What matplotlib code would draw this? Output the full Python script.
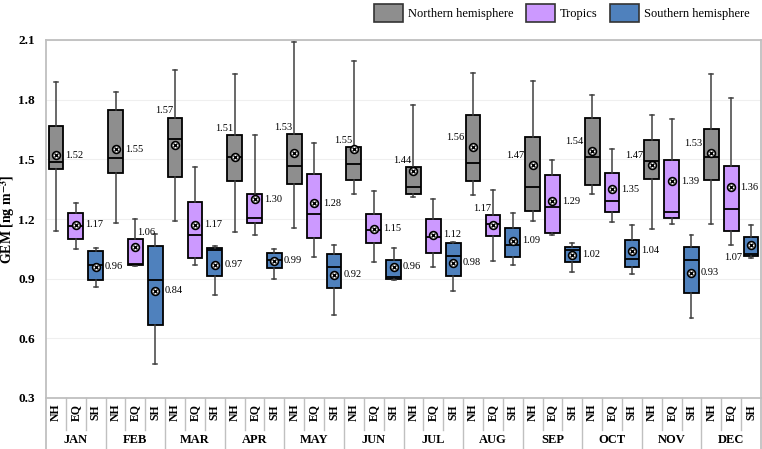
import matplotlib
matplotlib.use("Agg")
import matplotlib.pyplot as plt
from matplotlib.patches import Patch
from matplotlib.lines import Line2D

plt.rcParams['font.family'] = ['Liberation Serif', 'DejaVu Serif']
plt.rcParams['mathtext.fontset'] = 'stix'

months = ["JAN", "FEB", "MAR", "APR", "MAY", "JUN", "JUL", "AUG", "SEP", "OCT", "NOV", "DEC"]
regions = ["NH", "EQ", "SH"]
legend_labels = ["Northern hemisphere", "Tropics", "Southern hemisphere"]

# Per box (month-major, region order NH, EQ, SH)
whislo = [1.14, 1.05, 0.86, 1.18, 0.965, 0.47, 1.19, 0.97, 0.82, 1.135, 1.12, 0.90,
          1.155, 1.01, 0.715, 1.325, 0.985, 0.895, 1.31, 0.96, 0.84, 1.32, 0.99, 0.97,
          1.19, 1.12, 0.935, 1.325, 1.185, 0.925, 1.15, 1.175, 0.70, 1.175, 1.07, 1.005]
q1 = [1.45, 1.10, 0.895, 1.43, 0.967, 0.665, 1.41, 1.005, 0.915, 1.39, 1.18, 0.952,
      1.375, 1.105, 0.855, 1.395, 1.08, 0.90, 1.325, 1.03, 0.915, 1.39, 1.115, 1.01,
      1.24, 1.13, 0.985, 1.372, 1.233, 0.96, 1.40, 1.205, 0.83, 1.395, 1.14, 1.016]
med = [1.487, 1.167, 0.971, 1.505, 0.972, 0.893, 1.60, 1.12, 1.044, 1.51, 1.205, 0.995,
       1.465, 1.225, 0.96, 1.475, 1.145, 0.91, 1.36, 1.11, 1.014, 1.48, 1.174, 1.07,
       1.36, 1.262, 1.043, 1.512, 1.29, 0.999, 1.49, 1.235, 0.993, 1.51, 1.249, 1.026]
q3 = [1.67, 1.232, 1.039, 1.75, 1.10, 1.063, 1.71, 1.287, 1.056, 1.62, 1.328, 1.028,
      1.625, 1.425, 1.023, 1.56, 1.224, 0.994, 1.46, 1.20, 1.081, 1.725, 1.222, 1.155,
      1.612, 1.42, 1.06, 1.71, 1.433, 1.093, 1.597, 1.495, 1.061, 1.654, 1.468, 1.11]
whishi = [1.89, 1.282, 1.056, 1.839, 1.202, 1.123, 1.947, 1.46, 1.066, 1.929, 1.621, 1.051,
          2.09, 1.584, 1.068, 1.993, 1.339, 1.052, 1.775, 1.299, 1.086, 1.935, 1.344, 1.229,
          1.892, 1.497, 1.078, 1.823, 1.55, 1.168, 1.721, 1.701, 1.12, 1.927, 1.807, 1.168]
means = [1.52, 1.17, 0.96, 1.55, 1.06, 0.84, 1.57, 1.17, 0.97, 1.51, 1.30, 0.99,
         1.53, 1.28, 0.92, 1.55, 1.15, 0.96, 1.44, 1.12, 0.98, 1.56, 1.17, 1.09,
         1.47, 1.29, 1.02, 1.54, 1.35, 1.04, 1.47, 1.39, 0.93, 1.53, 1.36, 1.07]

# label placement codes: r=right, ul=upper-left (above box), l=left, ur=upper-right, ll=lower-left
label_pos = ["r", "r", "r", "r", "ur", "r", "ul", "r", "r", "ul", "r", "r",
             "ul", "r", "r", "ul", "r", "r", "ul", "r", "r", "l", "ul", "r",
             "l", "r", "r", "l", "r", "r", "l", "r", "r", "l", "r", "ll"]

colors = ["#8e8e8e", "#cc99ff", "#4f81bd"]

fig = plt.figure(figsize=(7.62, 4.49), dpi=100)
ax = fig.add_axes([46 / 762, 51 / 449, 715 / 762, 358 / 449])

n = len(means)
positions = list(range(n))
stats = []
for i in range(n):
    stats.append(dict(med=med[i], q1=q1[i], q3=q3[i], whislo=whislo[i], whishi=whishi[i], fliers=[]))

bw = 0.74
bp = ax.bxp(stats, positions=positions, widths=bw, patch_artist=True, showfliers=False,
            capwidths=0.2,
            boxprops=dict(linewidth=1.3, edgecolor="black"),
            medianprops=dict(color="black", linewidth=1.3),
            whiskerprops=dict(color="#404040", linewidth=1.1),
            capprops=dict(color="#404040", linewidth=1.1))
for i, patch in enumerate(bp['boxes']):
    patch.set_facecolor(colors[i % 3])

ax.plot(positions, means, linestyle="none", marker="o", markersize=5.6,
        markerfacecolor="white", markeredgecolor="black", markeredgewidth=1.2, zorder=5)
ax.plot(positions, means, linestyle="none", marker="x", markersize=3.2,
        color="black", markeredgewidth=1.0, zorder=6)

for i in range(n):
    code = label_pos[i]
    txt = f"{means[i]:.2f}"
    if code == "r":
        ax.annotate(txt, xy=(i + bw / 2, means[i]), xytext=(1.5, 0), textcoords="offset points",
                    ha="left", va="center", fontsize=7.5)
    elif code == "ul":
        ax.annotate(txt, xy=(i - bw / 2, q3[i]), xytext=(4, 1.5), textcoords="offset points",
                    ha="right", va="bottom", fontsize=7.5)
    elif code == "ur":
        ax.annotate(txt, xy=(i, q3[i]), xytext=(1.5, 1.5), textcoords="offset points",
                    ha="left", va="bottom", fontsize=7.5)
    elif code == "l":
        ax.annotate(txt, xy=(i - bw / 2, means[i]), xytext=(-1, 7), textcoords="offset points",
                    ha="right", va="center", fontsize=7.5)
    elif code == "ll":
        ax.annotate(txt, xy=(i - bw / 2, means[i]), xytext=(-1, -9), textcoords="offset points",
                    ha="right", va="center", fontsize=7.5)

ax.set_xlim(-0.5, n - 0.5)
ax.set_ylim(0.3, 2.1)
ax.set_yticks([0.3, 0.6, 0.9, 1.2, 1.5, 1.8, 2.1])
ax.set_yticklabels(["0.3", "0.6", "0.9", "1.2", "1.5", "1.8", "2.1"], fontweight="bold", fontsize=9.5)
ax.tick_params(axis="y", length=0, pad=8)
ax.set_xticks([])
ax.grid(axis="y", color="#efefef", linewidth=0.8)
ax.set_axisbelow(True)
for s in ax.spines.values():
    s.set_color("#bfbfbf")
    s.set_linewidth(1.3)

ax.set_ylabel("GEM [ng m$^{\\mathbf{-3}}$]", fontweight="bold", fontsize=10)
ax.yaxis.set_label_coords(-0.04, 0.5)

trans = ax.get_xaxis_transform()
for i in range(n):
    ax.text(i, -0.04, regions[i % 3], rotation=90, ha="center", va="center",
            fontsize=8.5, fontweight="bold", transform=trans)
for m, name in enumerate(months):
    ax.text(3 * m + 1, -0.118, name, ha="center", va="center", fontsize=9,
            fontweight="bold", transform=trans)
for i in range(1, n):
    bottom = -0.145 if i % 3 == 0 else -0.09
    ax.add_line(Line2D([i - 0.5, i - 0.5], [0, bottom], transform=trans, color="#c0c0c0",
                       linewidth=1.0, clip_on=False))
for xb in (-0.5, n - 0.5):
    ax.add_line(Line2D([xb, xb], [0, -0.145], transform=trans, color="#c0c0c0",
                       linewidth=1.3, clip_on=False))

handles = [Patch(facecolor=c, edgecolor="#333333", linewidth=1.2) for c in colors]
fig.legend(handles, legend_labels, loc="center", bbox_to_anchor=(562 / 762, 1 - 13 / 449),
           ncol=3, frameon=False, fontsize=9, handlelength=2.3, handleheight=1.8,
           handletextpad=0.4, columnspacing=1.0, borderaxespad=0, borderpad=0)

fig.savefig("out.png", dpi=100)
